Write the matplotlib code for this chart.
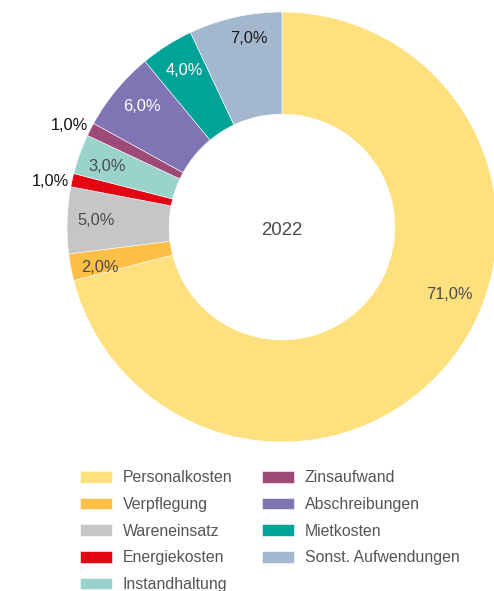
import matplotlib.pyplot as plt
import numpy as np

plt.rcParams["font.family"] = ["Liberation Sans", "DejaVu Sans"]

# data
categories = ["Personalkosten", "Verpflegung", "Wareneinsatz", "Energiekosten",
              "Instandhaltung", "Zinsaufwand", "Abschreibungen", "Mietkosten",
              "Sonst. Aufwendungen"]
shares = [71.0, 2.0, 5.0, 1.0, 3.0, 1.0, 6.0, 4.0, 7.0]
year = "2022"

colors = ["#FEE17E", "#FDBF45", "#C6C6C6", "#E30613", "#9AD3CC",
          "#9E4A78", "#8074B4", "#00A398", "#A3B8CF"]
label_colors = ["#4a4a4a", "#4a4a4a", "#4a4a4a", "#111111", "#4a4a4a",
                "#111111", "#ffffff", "#ffffff", "#1a1a1a"]

W, H = 494, 591
fig = plt.figure(figsize=(W / 100, H / 100), dpi=100)

# pie axes: centre (282, 227) px, outer radius 215 px
cx, cy, R = 282, 227, 215
ax = fig.add_axes([(cx - R) / W, (H - cy - R) / H, 2 * R / W, 2 * R / H])

wedges, _ = ax.pie(shares, colors=colors, startangle=90, counterclock=False,
                   radius=1, wedgeprops=dict(width=0.475, edgecolor="white", linewidth=0.4))
ax.set_xlim(-1, 1)
ax.set_ylim(-1, 1)
ax.axis("off")

# label placement tweaks (angle offset in deg, radius)
tweaks = {1: (1.3, 0.865), 2: (-0.7, 0.865), 6: (-1.5, 0.865),
          7: (-0.7, 0.865), 8: (-2.7, 0.9)}

for i, w in enumerate(wedges):
    mid = (w.theta1 + w.theta2) / 2
    r, off = 0.865, 0.0
    if shares[i] <= 1.0:
        r, off = 1.102, 1.0
    if i in tweaks:
        off, r = tweaks[i]
    if i == 0:
        mid, r = -21.2, 0.837
    ang = np.deg2rad(mid + off)
    ax.text(r * np.cos(ang), r * np.sin(ang) - 0.0093, f"{shares[i]:.1f}%".replace(".", ","),
            ha="center", va="center", fontsize=11.8, color=label_colors[i])

ax.text(0, -0.016, year, ha="center", va="center", fontsize=13.4, color="#4a4a4a")

# legend
fig.legend(wedges, categories, ncol=2, loc="upper left",
           bbox_to_anchor=(74 / W, 1 - 464 / H), frameon=False,
           fontsize=11.4, labelcolor="#555555", handlelength=2.0, handleheight=0.75,
           handletextpad=0.68, columnspacing=1.9, labelspacing=0.74,
           borderaxespad=0)

fig.savefig("out.png", dpi=100)
